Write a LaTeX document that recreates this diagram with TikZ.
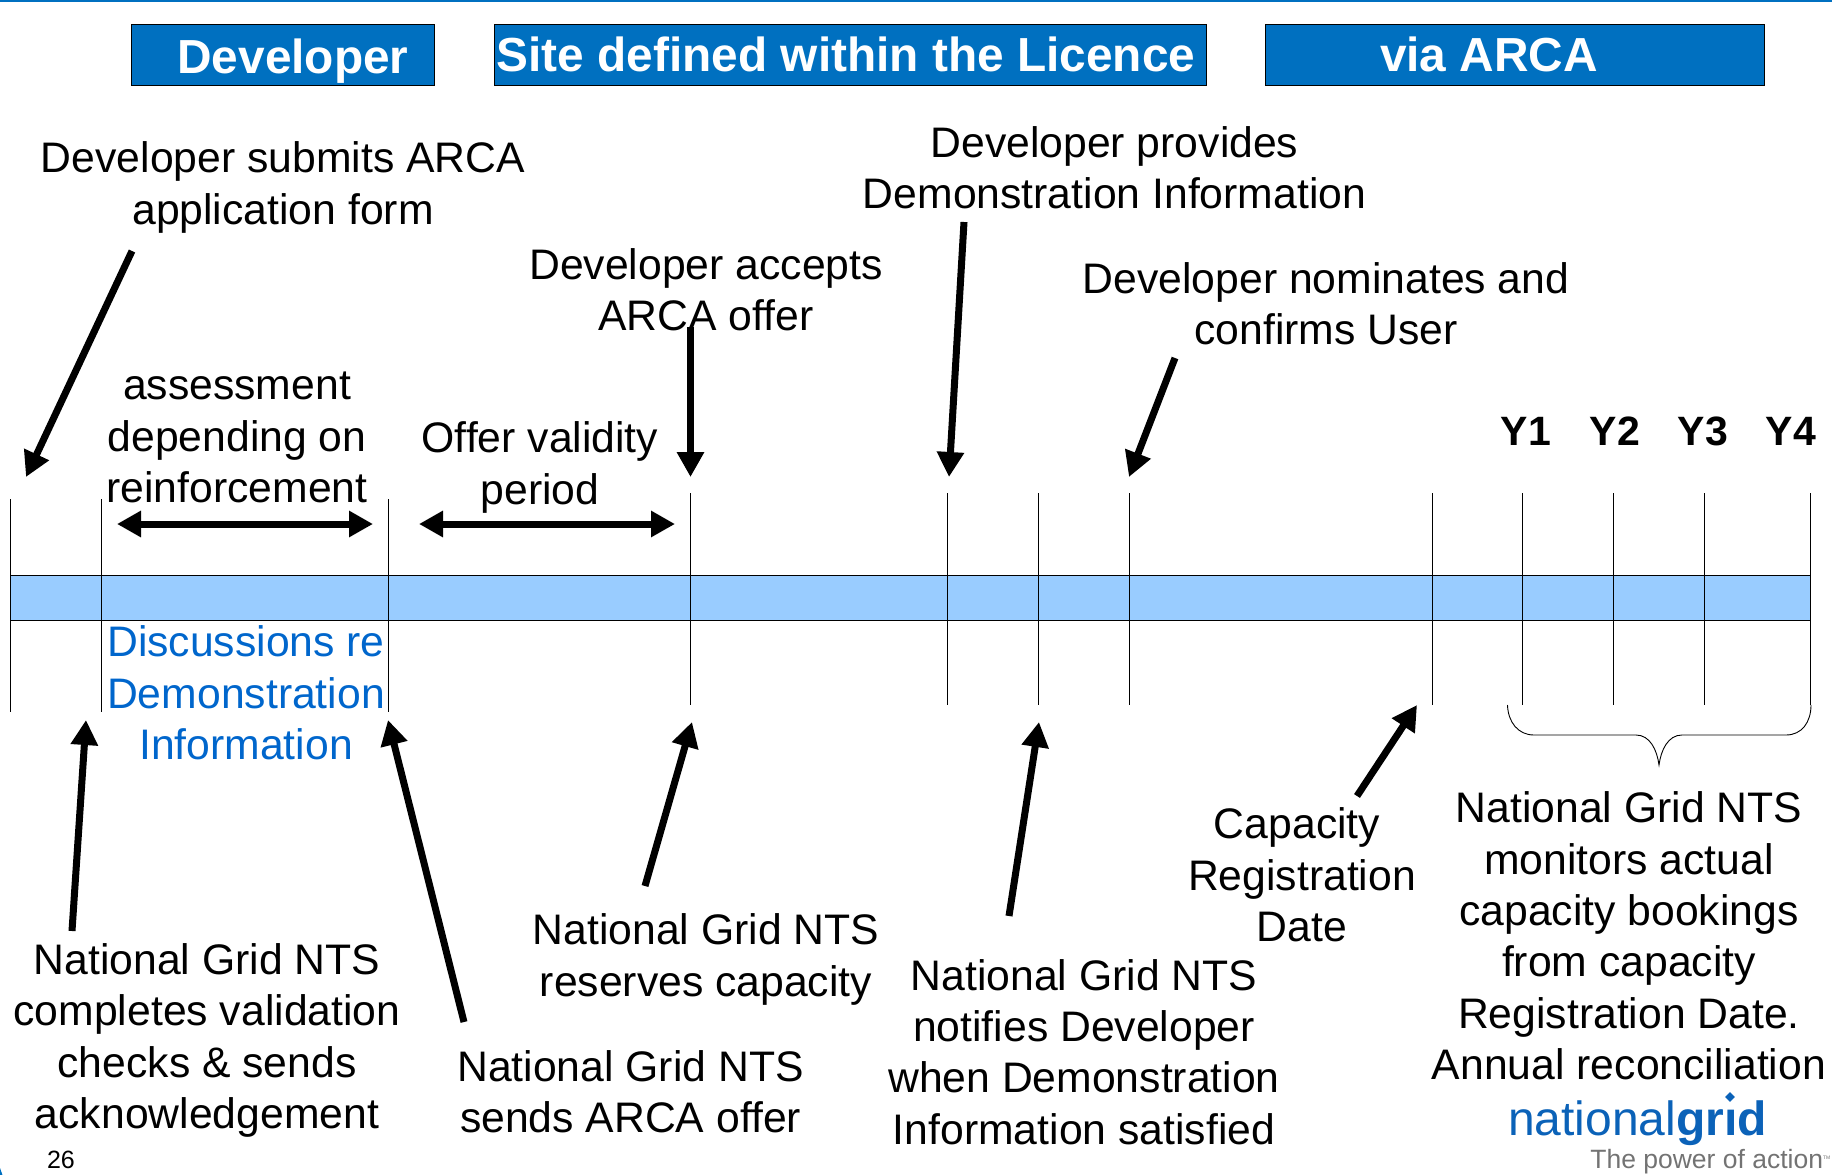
\documentclass[tikz,border=0pt]{standalone}
\usepackage{fontspec}
\setmainfont{Liberation Sans}
\usetikzlibrary{arrows.meta}
\usetikzlibrary{shapes.geometric}
\definecolor{headblue}{HTML}{0070C0}
\definecolor{barblue}{HTML}{99CCFF}
\definecolor{noteblue}{HTML}{0066CC}
\definecolor{logoblue}{HTML}{0B62B8}
\tikzset{
  headbox/.style={draw=black, line width=0.8pt, fill=headblue, text=white, inner sep=0pt, minimum height=61pt, font=\bfseries\fontsize{47.8}{54}\selectfont},
  note/.style={inner sep=0pt, align=center, font=\fontsize{42.7}{51.4}\selectfont},
  yearlabel/.style={inner sep=0pt, font=\bfseries\fontsize{41}{50}\selectfont},
  tick/.style={line width=0.8pt},
  pointer/.style={line width=7pt, -{Triangle[length=25pt,width=26pt]}},
  span/.style={line width=7pt, {Triangle[length=24pt,width=25pt]}-{Triangle[length=24pt,width=25pt]}}
}
\begin{document}
\begin{tikzpicture}[x=1pt, y=-1pt]
          \useasboundingbox (0, 0) rectangle (1832, 1175);
          \draw[headblue, line width=2pt] (0, 1) -- (1832, 1);
          \fill[headblue] (0, 1168) -- (2.5, 1175) -- (0, 1175) -- cycle;
          \node[headbox, minimum width=303pt] (headdev) at (282.5, 54.5) {};
          \node[inner sep=0pt, text=white, font=\bfseries\fontsize{47.8}{54}\selectfont] (headdevtext) at (293, 61) {Developer};
          \node[headbox, minimum width=712pt] (headsite) at (850, 54.5) {\hspace*{-8pt}Site defined within the Licence};
          \node[headbox, minimum width=499pt] (headarca) at (1514.5, 54.5) {\hspace*{-51pt}via ARCA};
          \draw[draw=black, line width=0.8pt, fill=barblue] (10, 575) rectangle (1810, 620.5);
          \draw[tick] (10, 499) -- (10, 712);
          \draw[tick] (101, 499) -- (101, 712);
          \draw[tick] (388, 499) -- (388, 712);
          \draw[tick] (690.5, 493) -- (690.5, 705);
          \draw[tick] (947.5, 493) -- (947.5, 705);
          \draw[tick] (1038.5, 493) -- (1038.5, 705);
          \draw[tick] (1129, 493) -- (1129, 705);
          \draw[tick] (1432, 493) -- (1432, 705);
          \draw[tick] (1522.5, 493) -- (1522.5, 705);
          \draw[tick] (1613.5, 493) -- (1613.5, 705);
          \draw[tick] (1704, 493) -- (1704, 705);
          \draw[tick] (1810, 493) -- (1810, 705);
          \node[note] (submits) at (283, 187.5) {Developer submits ARCA\\application form};
          \node[note] (provides) at (1114.5, 168) {Developer provides\\Demonstration Information};
          \node[note] (accepts) at (706, 290) {Developer accepts\\ARCA offer};
          \node[note] (nominates) at (1326, 304) {Developer nominates and\\confirms User};
          \node[note] (assess) at (237, 437.5) {assessment\\depending on\\reinforcement};
          \node[note] (validity) at (540, 467.5) {Offer validity\\period};
          \node[yearlabel] (yone) at (1526, 431) {Y1};
          \node[yearlabel] (ytwo) at (1615, 431) {Y2};
          \node[yearlabel] (ythree) at (1703, 431) {Y3};
          \node[yearlabel] (yfour) at (1791, 431) {Y4};
          \node[note, text=noteblue] (discuss) at (246, 693) {Discussions re\\Demonstration\\Information};
          \node[note] (checks) at (207, 1040.5) {National Grid NTS\\completes validation\\checks \& sends\\acknowledgement};
          \node[note] (sends) at (630.5, 1092) {National Grid NTS\\sends ARCA offer};
          \node[note] (reserves) at (706, 959.5) {National Grid NTS\\reserves capacity};
          \node[note] (notifies) at (1084, 1052) {National Grid NTS\\notifies Developer\\when Demonstration\\Information satisfied};
          \node[note] (regdate) at (1302, 875) {Capacity\hspace*{10pt}\\Registration\\Date};
          \node[note] (monitors) at (1629, 936) {National Grid NTS\\monitors actual\\capacity bookings\\from capacity\\Registration Date.\\Annual reconciliation};
          \node[inner sep=0pt, font=\fontsize{25}{28}\selectfont] (pagenum) at (61, 1160) {26};
          % arrows onto the timeline
          \coordinate (submitstail) at (132, 251);
          \coordinate (submitstip) at (26, 477);
          \coordinate (providestail) at (964, 222);
          \coordinate (providestip) at (949, 477);
          \coordinate (acceptstail) at (690.5, 327);
          \coordinate (acceptstip) at (690.5, 477);
          \coordinate (nominatestail) at (1175, 358);
          \coordinate (nominatestip) at (1129, 477);
          \coordinate (checkstail) at (72, 931);
          \coordinate (checkstip) at (86, 720);
          \coordinate (sendstail) at (464, 1022);
          \coordinate (sendstip) at (388, 720);
          \coordinate (reservestail) at (645, 886);
          \coordinate (reservestip) at (692, 722);
          \coordinate (notifiestail) at (1009, 916);
          \coordinate (notifiestip) at (1039, 722);
          \coordinate (regdatetail) at (1357, 796);
          \coordinate (regdatetip) at (1417, 705);
          \draw[pointer] (submitstail) -- (submitstip);
          \draw[pointer] (providestail) -- (providestip);
          \draw[pointer] (acceptstail) -- (acceptstip);
          \draw[pointer] (nominatestail) -- (nominatestip);
          \draw[pointer] (checkstail) -- (checkstip);
          \draw[pointer] (sendstail) -- (sendstip);
          \draw[pointer] (reservestail) -- (reservestip);
          \draw[pointer] (notifiestail) -- (notifiestip);
          \draw[pointer] (regdatetail) -- (regdatetip);
          \coordinate (assessleft) at (117, 524);
          \coordinate (assessright) at (373, 524);
          \coordinate (validleft) at (419, 524);
          \coordinate (validright) at (675, 524);
          \draw[span] (assessleft) -- (assessright);
          \draw[span] (validleft) -- (validright);
          % brace under the years
          \draw[line width=0.9pt] (1507.5, 705) .. controls (1508, 722) and (1518, 735) .. (1534, 735) -- (1636, 735) .. controls (1650, 735) and (1657, 750) .. (1659, 765) .. controls (1661, 750) and (1668, 735) .. (1682, 735) -- (1786, 735) .. controls (1802, 735) and (1811, 722) .. (1811, 705);
          % logo
          \node[inner sep=0pt, anchor=base west, text=logoblue, font=\fontsize{48}{50}\selectfont] (logo) at (1508, 1135) {national\textbf{gr\i d}};
          \node[diamond, fill=logoblue, inner sep=0pt, minimum size=10pt] (logodot) at (1730, 1097) {};
          \node[inner sep=0pt, anchor=base east, text=black!55, font=\fontsize{26.5}{28}\selectfont] (tagline) at (1831, 1168.5) {The power of action\textsuperscript{\tiny TM}};
\end{tikzpicture}
\end{document}
